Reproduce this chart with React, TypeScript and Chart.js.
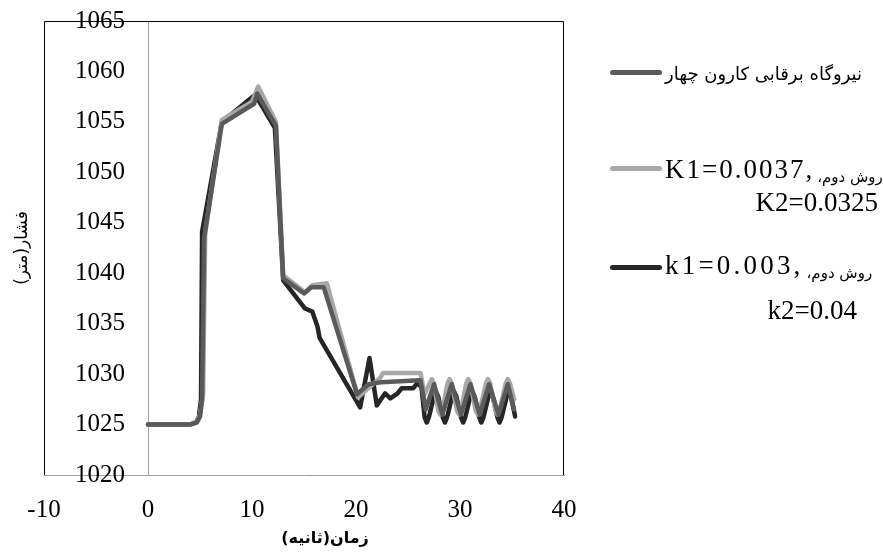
import React, { useEffect, useRef } from "react";
import { Chart, registerables } from "chart.js";

Chart.register(...registerables);

// ---- data ----
const seriesNames = [
  "نیروگاه برقابی کارون چهار",
  "روش دوم، K1=0.0037, K2=0.0325",
  "روش دوم، k1=0.003, k2=0.04",
];
const xAxisTitle = "زمان(ثانیه)";
const yAxisTitle = "فشار(متر)";

const xTickValues = [-10, 0, 10, 20, 30, 40];
const yTickValues = [1020, 1025, 1030, 1035, 1040, 1045, 1050, 1055, 1060, 1065];

const plantX = [0, 4.0, 4.7, 5.0, 5.2, 5.4, 7.1, 10.2, 10.5, 12.3, 13.0, 15.0, 15.7, 16.9, 20.1, 21.2, 22.4, 26.2, 26.7, 27.5, 28.3, 29.2, 30.1, 31.0, 31.9, 32.8, 33.7, 34.6, 35.2];
const plantY = [1025, 1025, 1025.2, 1025.8, 1027.5, 1043.5, 1054.8, 1056.8, 1057.8, 1054.6, 1039.5, 1038.0, 1038.6, 1038.6, 1028.0, 1029.0, 1029.2, 1029.4, 1026.5, 1029.0, 1026.0, 1029.0, 1026.0, 1029.0, 1026.0, 1029.0, 1026.0, 1029.0, 1026.5];

const methodAX = [0, 4.0, 4.7, 5.0, 5.3, 5.5, 7.1, 10.0, 10.6, 12.3, 13.0, 15.1, 15.8, 17.2, 20.2, 22.3, 22.6, 26.2, 26.6,
  27.1, 27.3, 27.5, 27.9, 28.1, 28.3, 28.8, 29.0, 29.2, 29.7, 29.9, 30.1, 30.6, 30.8, 31.0, 31.5, 31.7, 31.9, 32.5, 32.7, 32.9, 33.4, 33.6, 33.8, 34.4, 34.6, 34.8, 35.2];
const methodAY = [1025, 1025, 1025.3, 1026.0, 1028.0, 1044.0, 1055.2, 1057.0, 1058.5, 1055.0, 1039.8, 1038.1, 1038.8, 1039.0, 1027.7, 1029.6, 1030.1, 1030.1, 1028.0,
  1029.1, 1029.5, 1029.1, 1026.4, 1026.0, 1026.4, 1029.1, 1029.5, 1029.1, 1026.4, 1026.0, 1026.4, 1029.1, 1029.5, 1029.1, 1026.4, 1026.0, 1026.4, 1029.1, 1029.5, 1029.1, 1026.4, 1026.0, 1026.4, 1029.1, 1029.5, 1029.1, 1027.5];

const methodBX = [0, 4.0, 4.6, 4.9, 5.1, 5.2, 7.1, 10.3, 12.2, 13.0, 15.1, 15.8, 16.3, 16.5, 20.4, 21.3, 22.0, 22.8, 23.3, 24.0, 24.4, 25.5, 25.9, 26.3,
  26.6, 26.8, 27.0, 27.5, 27.7, 27.9, 28.35, 28.55, 28.75, 29.25, 29.45, 29.65, 30.1, 30.3, 30.5, 31.0, 31.2, 31.4, 31.85, 32.05, 32.25, 32.75, 32.95, 33.15, 33.6, 33.8, 34.0, 34.5, 34.7, 34.9, 35.3];
const methodBY = [1025, 1025, 1025.2, 1025.8, 1027.5, 1044.1, 1055.0, 1057.7, 1054.4, 1039.3, 1036.5, 1036.2, 1034.7, 1033.6, 1026.7, 1031.6, 1026.9, 1028.1, 1027.6, 1028.1, 1028.6, 1028.6, 1029.1, 1028.7,
  1025.7, 1025.2, 1025.7, 1027.8, 1028.2, 1027.8, 1025.7, 1025.2, 1025.7, 1027.8, 1028.2, 1027.8, 1025.7, 1025.2, 1025.7, 1027.8, 1028.2, 1027.8, 1025.7, 1025.2, 1025.7, 1027.8, 1028.2, 1027.8, 1025.7, 1025.2, 1025.7, 1027.8, 1028.2, 1027.8, 1025.8];

const seriesColors = ["#5a5a5a", "#a8a8a8", "#262626"];

const serif = "'Liberation Serif', 'Times New Roman', serif";
const arabic = "'DejaVu Sans', 'Noto Sans', sans-serif";

const toPoints = (xs: number[], ys: number[]) => xs.map((x, i) => ({ x, y: ys[i] }));

const framePlugin = {
  id: "frame",
  beforeDatasetsDraw(chart: any) {
    const { ctx, chartArea } = chart;
    const { left, top, right, bottom } = chartArea;
    ctx.save();
    ctx.strokeStyle = "#000";
    ctx.lineWidth = 1;
    ctx.beginPath();
    ctx.moveTo(Math.round(left) + 0.5, bottom);
    ctx.lineTo(Math.round(left) + 0.5, Math.round(top) + 0.5);
    ctx.lineTo(Math.round(right) - 0.5, Math.round(top) + 0.5);
    ctx.lineTo(Math.round(right) - 0.5, bottom);
    ctx.stroke();
    ctx.restore();
  },
};

// x-axis title, drawn a little right of the plot centre as in the original
const xTitlePlugin = {
  id: "xTitle",
  afterDraw(chart: any) {
    const { ctx, chartArea } = chart;
    ctx.save();
    ctx.font = `bold 16px ${arabic}`;
    ctx.fillStyle = "#000";
    ctx.textAlign = "center";
    ctx.textBaseline = "middle";
    ctx.fillText(xAxisTitle, (chartArea.left + chartArea.right) / 2 + 21, chart.height - 14);
    ctx.restore();
  },
};

const Y_LABEL_GAP = 23;

function ChartCanvas() {
  const ref = useRef<HTMLCanvasElement | null>(null);
  useEffect(() => {
    if (!ref.current) return;
    const xs = [plantX, methodAX, methodBX];
    const ys = [plantY, methodAY, methodBY];
    const chart = new Chart(ref.current, {
      type: "line",
      data: {
        datasets: seriesNames.map((name, i) => ({
          label: name,
          data: toPoints(xs[i], ys[i]),
          borderColor: seriesColors[i],
          backgroundColor: seriesColors[i],
          borderWidth: 4.5,
          pointRadius: 0,
          borderJoinStyle: "round" as const,
          borderCapStyle: "round" as const,
          tension: 0,
          xAxisID: "x",
          yAxisID: "y",
        })),
      },
      options: {
        animation: false,
        responsive: false,
        devicePixelRatio: 1,
        layout: { padding: { top: 0, right: 319, left: 0, bottom: 0 } },
        plugins: { legend: { display: false }, tooltip: { enabled: false } },
        scales: {
          x: {
            type: "linear",
            position: "bottom",
            min: xTickValues[0],
            max: xTickValues[xTickValues.length - 1],
            afterBuildTicks: (s: any) => {
              s.ticks = xTickValues.map((v) => ({ value: v }));
            },
            grid: { display: false, drawTicks: false },
            border: { display: true, color: "#a0a0a0", width: 1 },
            ticks: { color: "#000", font: { family: serif, size: 25 }, padding: 20, maxRotation: 0, callback: (v: any) => String(v) },
            title: { display: false },
            afterFit: (s: any) => {
              s.height = 78;
            },
          },
          yTitle: {
            type: "linear",
            axis: "y",
            position: "left",
            min: 0,
            max: 1,
            grid: { display: false, drawTicks: false },
            border: { display: false },
            ticks: { display: false },
            title: {
              display: true,
              text: yAxisTitle,
              color: "#000",
              font: { family: arabic, size: 17 },
              padding: { top: 12, bottom: 0 },
            },
            afterFit: (s: any) => {
              s.width = 44;
            },
          },
          y: {
            type: "linear",
            position: { x: 0 } as any,
            min: yTickValues[0],
            max: yTickValues[yTickValues.length - 1],
            afterBuildTicks: (s: any) => {
              s.ticks = yTickValues.map((v) => ({ value: v }));
            },
            afterUpdate: (s: any) => {
              if (!s.__gapPatched && typeof s._computeLabelItems === "function") {
                const orig = s._computeLabelItems;
                s._computeLabelItems = function (ca: any) {
                  const items = orig.call(this, ca);
                  items.forEach((it: any) => {
                    if (it && it.options && Array.isArray(it.options.translation)) {
                      it.options.translation[0] -= Y_LABEL_GAP;
                    }
                  });
                  return items;
                };
                s.__gapPatched = true;
              }
            },
            grid: { display: false, drawTicks: false },
            border: { display: true, color: "#a0a0a0", width: 1 },
            ticks: { color: "#000", font: { family: serif, size: 25 }, padding: 6, callback: (v: any) => String(v) },
          },
        },
      },
      plugins: [framePlugin, xTitlePlugin],
    } as any);
    return () => chart.destroy();
  }, []);
  return <canvas ref={ref} width={883} height={553} style={{ position: "absolute", left: 0, top: 0, display: "block" }} />;
}

function LegendLine({ top, color }: { top: number; color: string }) {
  return (
    <div
      style={{ position: "absolute", left: 610, top, width: 52, height: 5, borderRadius: 3, background: color }}
    />
  );
}

export default function App() {
  const latin = { fontFamily: serif, fontSize: 27, lineHeight: "29px", color: "#000" } as const;
  const ar = { color: "#000", direction: "rtl" as const, unicodeBidi: "isolate" as const };
  const arSmall = { ...ar, fontFamily: arabic, fontSize: 15, position: "relative" as const, top: 4, marginLeft: 3 };
  return (
    <div style={{ position: "fixed", left: 0, top: 0, width: 883, height: 553, background: "#fff", overflow: "hidden" }}>
      <ChartCanvas />
      <LegendLine top={70} color={seriesColors[0]} />
      <div style={{ position: "absolute", left: 665, top: 62, whiteSpace: "nowrap", lineHeight: "24px", fontFamily: arabic, fontSize: 18, ...ar }}>
        نیروگاه برقابی کارون چهار
      </div>

      <LegendLine top={166} color={seriesColors[1]} />
      <div style={{ position: "absolute", left: 665, top: 155, width: 213, whiteSpace: "nowrap" }}>
        <div style={{ display: "flex", alignItems: "baseline", ...latin }}>
          <span style={{ letterSpacing: 2.0 }}>K1=0.0037,</span>
          <span style={arSmall}>روش دوم،</span>
        </div>
        <div style={{ ...latin, textAlign: "right" }}>K2=0.0325</div>
      </div>

      <LegendLine top={265} color={seriesColors[2]} />
      <div style={{ position: "absolute", left: 665, top: 251, width: 192, whiteSpace: "nowrap" }}>
        <div style={{ display: "flex", alignItems: "baseline", ...latin }}>
          <span style={{ letterSpacing: 3.2 }}>k1=0.003,</span>
          <span style={arSmall}>روش دوم،</span>
        </div>
        <div style={{ ...latin, textAlign: "right", marginTop: 12 }}>k2=0.04</div>
      </div>
    </div>
  );
}
